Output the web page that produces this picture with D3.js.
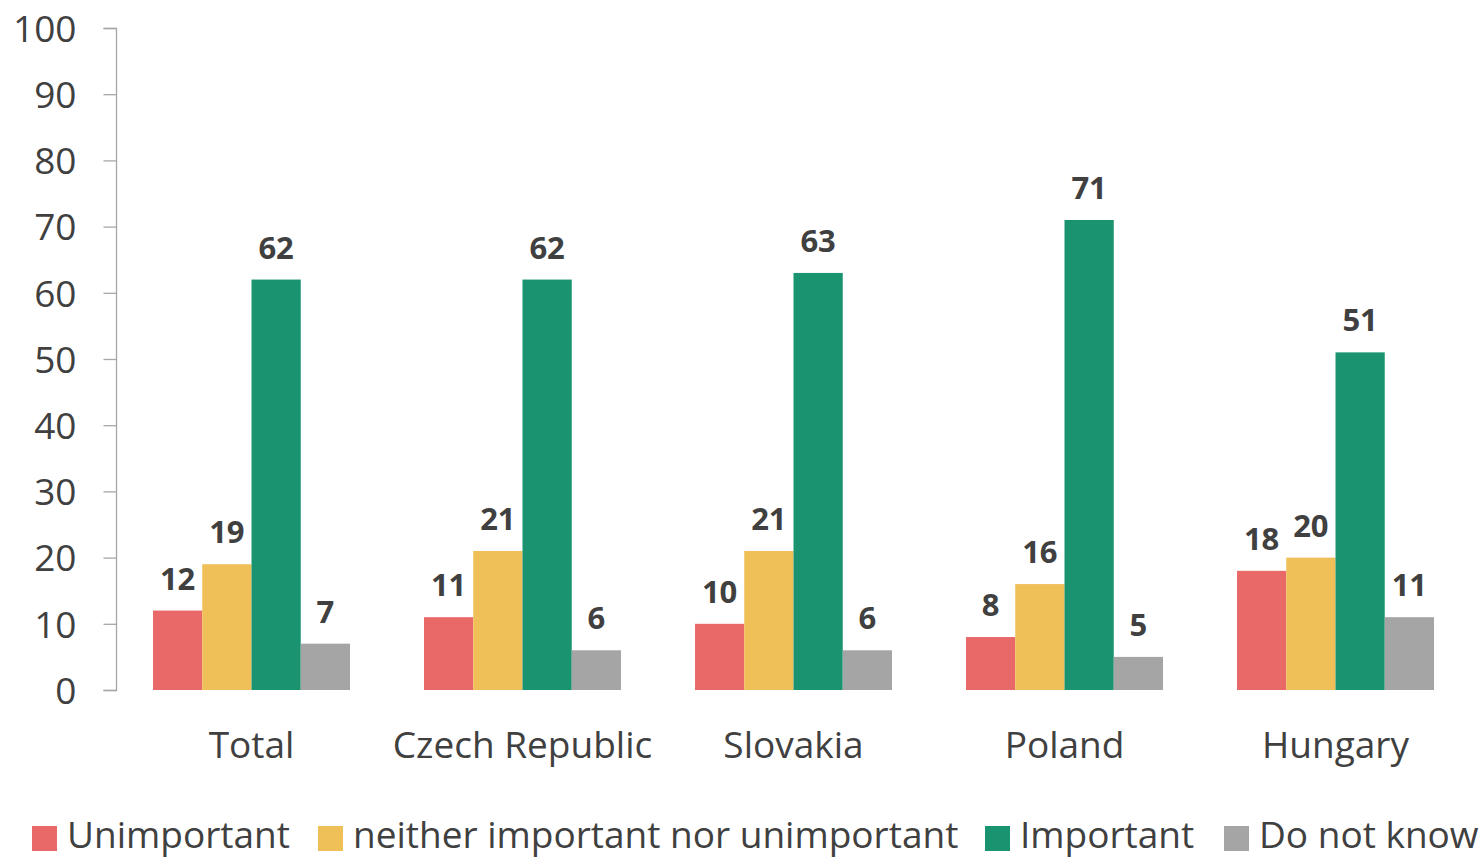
<!DOCTYPE html>
<html>
<head>
<meta charset="utf-8">
<script src="https://cdn.jsdelivr.net/npm/d3@7"></script>
<style>
  html, body { margin: 0; padding: 0; background: #ffffff; }
  svg { display: block; }
  text { font-family: "Open Sans", "Noto Sans", sans-serif; fill: #404040; }
</style>
</head>
<body>
<svg id="chart" width="1481" height="858"></svg>
<script>
const categories = ["Total", "Czech Republic", "Slovakia", "Poland", "Hungary"];
const seriesNames = ["Unimportant", "neither important nor unimportant", "Important", "Do not know"];
const unimportant = [12, 11, 10, 8, 18];
const neither = [19, 21, 21, 16, 20];
const important = [62, 62, 63, 71, 51];
const doNotKnow = [7, 6, 6, 5, 11];
const yTicks = [0, 10, 20, 30, 40, 50, 60, 70, 80, 90, 100];
const colors = ["#E96868", "#EFBF58", "#1A9470", "#A5A5A5"];

const seriesValues = [unimportant, neither, important, doNotKnow];
const data = categories.map((c, i) => ({
  category: c,
  values: seriesNames.map((s, j) => ({ series: s, idx: j, value: seriesValues[j][i] }))
}));

const svg = d3.select("#chart");
const plotBottom = 690;

const x = d3.scaleBand().domain(categories).range([116, 1471]).paddingInner(0.273).paddingOuter(0.1365);
const xs = d3.scaleBand().domain(seriesNames).range([0, x.bandwidth()]).padding(0);
const y = d3.scaleLinear().domain([0, 100]).range([plotBottom, 28]);

// Y axis
const yAxis = d3.axisLeft(y).tickValues(yTicks).tickSize(13).tickPadding(27);
const gy = svg.append("g").attr("transform", `translate(116.5,0)`).call(yAxis);
gy.select(".domain").attr("stroke", "#A6A6A6").attr("stroke-width", 1.3).attr("d", `M-13,${y(100)+0.5}H0V${y(0)+0.5}H-13`);
gy.selectAll(".tick line").attr("stroke", "#A6A6A6").attr("stroke-width", 1.3);
gy.selectAll(".tick text").attr("font-size", 37).attr("fill", "#404040")
  .attr("font-family", '"Open Sans", sans-serif').attr("dy", "0.36em");

// Bars
const groups = svg.append("g").selectAll("g").data(data).join("g")
  .attr("transform", d => `translate(${x(d.category)},0)`);
groups.selectAll("rect").data(d => d.values).join("rect")
  .attr("x", d => xs(d.series))
  .attr("width", xs.bandwidth())
  .attr("y", d => y(d.value))
  .attr("height", d => y(0) - y(d.value))
  .attr("fill", d => colors[d.idx]);

groups.selectAll("text.val").data(d => d.values).join("text")
  .attr("class", "val")
  .attr("x", d => xs(d.series) + xs.bandwidth() / 2)
  .attr("y", d => y(d.value) - 21)
  .attr("text-anchor", "middle")
  .attr("font-size", 31)
  .attr("font-weight", "bold")
  .text(d => d.value);

// Category labels
svg.append("g").selectAll("text").data(categories).join("text")
  .attr("x", d => x(d) + x.bandwidth() / 2)
  .attr("y", 758)
  .attr("text-anchor", "middle")
  .attr("font-size", 37)
  .text(d => d);

// Legend
const legend = svg.append("g").attr("transform", "translate(0,836)");
const legendX = [32, 318, 985, 1224];
const items = legend.selectAll("g").data(seriesNames).join("g")
  .attr("transform", (d, i) => `translate(${legendX[i]},0)`);
items.append("rect").attr("x", 0).attr("y", -10).attr("width", 25).attr("height", 25)
  .attr("fill", (d, i) => colors[i]);
items.append("text").attr("x", 35).attr("y", 12).attr("font-size", 37).text(d => d);
</script>
</body>
</html>
